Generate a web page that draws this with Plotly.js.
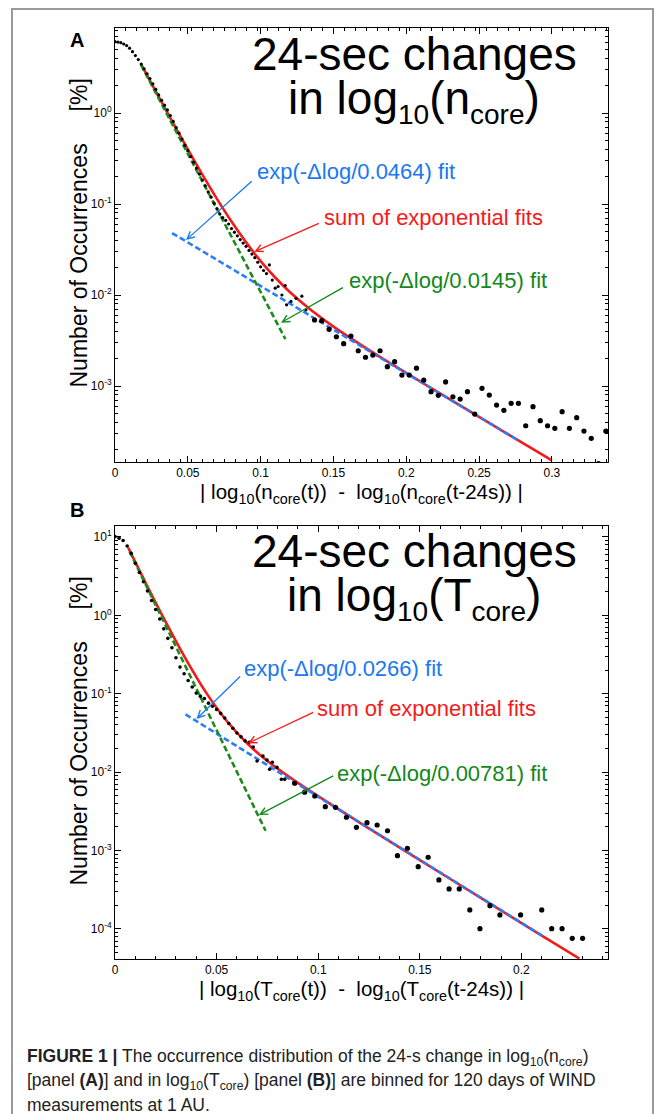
<!DOCTYPE html>
<html><head><meta charset="utf-8">
<script src="https://cdn.plot.ly/plotly-3.0.1.min.js"></script>
<style>html,body{margin:0;padding:0;background:#fff}#chart{width:663px;height:1114px}</style>
</head><body><div id="chart"></div>
<script>
const FONT = 'Liberation Sans, Arial, Helvetica, sans-serif';

// ---------- Panel A : 24-sec changes in log10(n_core) ----------
const aSmallX = [0,0.002,0.004,0.006,0.008,0.010,0.012,0.014,0.016,0.018,0.020,0.022,0.024,0.026,0.028,0.030,0.032,0.034,0.036,0.038,0.040,0.042,0.044,0.046,0.048,0.050,0.052,0.054,0.056,0.058,0.060,0.062,0.064,0.066,0.068,0.070,0.072,0.074,0.076,0.078,0.080,0.082,0.084,0.086,0.088,0.090,0.092,0.094,0.096,0.098,0.100,0.102,0.104,0.106,0.108,0.110,0.112,0.1146,0.1169,0.1178,0.1208,0.1243,0.1283,0.1311];
const aSmallY = [6.08,6.01,5.92,5.73,5.50,5.15,4.72,4.28,3.86,3.45,3.06,2.70,2.39,2.09,1.82,1.58,1.38,1.22,1.08,0.938,0.807,0.692,0.600,0.518,0.443,0.385,0.331,0.287,0.248,0.213,0.183,0.158,0.136,0.119,0.102,0.0891,0.0776,0.0708,0.0661,0.0603,0.0537,0.049,0.0447,0.0407,0.0372,0.0343,0.0309,0.0282,0.0257,0.0229,0.0204,0.0186,0.0172,0.0214,0.0146,0.0119,0.0124,0.0100,0.0127,0.0078,0.0085,0.0092,0.0097,0.00684];
const aLargeX = [0.137,0.142,0.147,0.152,0.157,0.162,0.167,0.172,0.177,0.182,0.187,0.192,0.197,0.202,0.207,0.212,0.217,0.222,0.227,0.232,0.237,0.242,0.247,0.252,0.257,0.262,0.267,0.272,0.277,0.282,0.287,0.292,0.297,0.302,0.307,0.312,0.317,0.322,0.327,0.332,0.337];
const aLargeY = [0.00531,0.00522,0.0042,0.00348,0.00292,0.00354,0.00244,0.00207,0.00219,0.00244,0.00163,0.00185,0.00132,0.00132,0.00157,0.00116,0.000866,0.00079,0.00111,0.000762,0.000719,0.000866,0.000492,0.000944,0.000796,0.000618,0.000541,0.000646,0.000646,0.000366,0.000593,0.000416,0.000366,0.000343,0.000522,0.000343,0.000449,0.00032,0.000266,0.00014,0.00032];
const aSumX = [0.0179,0.025,0.03,0.04,0.05,0.06,0.07,0.08,0.09,0.10,0.11,0.12,0.135,0.15,0.18,0.22,0.26,0.30];
const aSumY = [3.45,2.12,1.51,0.770,0.398,0.210,0.1138,0.0641,0.0379,0.0236,0.01557,0.0108,0.00676,0.0045,0.00218,0.00089,0.000367,0.000152];
const aFastX = [0.0179,0.117];
const aFastY = [3.37,0.00328];
const aSlowX = [0.0392,0.2765];
const aSlowY = [0.048,0.000255];

// ---------- Panel B : 24-sec changes in log10(T_core) ----------
const bSmallX = [0,0.002,0.004,0.006,0.008,0.010,0.012,0.014,0.016,0.018,0.020,0.022,0.024,0.026,0.028,0.030,0.032,0.034,0.036,0.038,0.040,0.042,0.044,0.046,0.048,0.050,0.052,0.054,0.056,0.058,0.060,0.062,0.064,0.066,0.068,0.0699,0.0728,0.0748,0.0761,0.0774,0.0797,0.0819,0.0835];
const bSmallY = [10.1,9.66,9.02,7.67,6.17,4.63,3.52,2.69,2.05,1.55,1.19,0.90,0.673,0.509,0.387,0.288,0.219,0.180,0.148,0.122,0.102,0.0933,0.0871,0.0759,0.0692,0.0631,0.0562,0.049,0.0417,0.0363,0.0316,0.0282,0.0251,0.024,0.0209,0.0139,0.0161,0.0143,0.0109,0.0134,0.0115,0.0081,0.0081];
const bLargeX = [0.0884,0.0933,0.0983,0.1035,0.1085,0.1139,0.1188,0.124,0.129,0.1341,0.139,0.1439,0.1492,0.1541,0.1594,0.1644,0.1694,0.1746,0.1796,0.1845,0.1894,0.1996,0.21,0.2149,0.22,0.225,0.2301];
const bLargeY = [0.00722,0.00555,0.00497,0.00363,0.00356,0.00266,0.00198,0.00227,0.00212,0.00179,0.000861,0.00107,0.000624,0.000822,0.000422,0.000324,0.000324,0.000175,0.000101,0.000198,0.000151,0.000151,0.000175,0.000101,0.000101,0.000076,0.000076];
const bSumX = [0.0065,0.015,0.025,0.035,0.045,0.055,0.065,0.075,0.09,0.12,0.15,0.18,0.21,0.2285];
const bSumY = [7.3,2.62,0.819,0.273,0.102,0.0449,0.0234,0.0139,0.0073,0.00231,0.000757,0.000249,0.000082,0.000042];
const bFastX = [0.0072,0.0741];
const bFastY = [6.5,0.00179];
const bSlowX = [0.0347,0.2105];
const bSlowY = [0.0547,0.000081];

// ---------- tick labels ----------
const aXTickVals = [0,0.05,0.1,0.15,0.2,0.25,0.3];
const aXTickText = ['0','0.05','0.1','0.15','0.2','0.25','0.3'];
const bXTickVals = [0,0.05,0.1,0.15,0.2];
const bXTickText = ['0','0.05','0.1','0.15','0.2'];
const aYTickVals = [0.001,0.01,0.1,1];
const aYTickText = ['10<sup>-3</sup>','10<sup>-2</sup>','10<sup>-1</sup>','10<sup>0</sup>'];
const bYTickVals = [0.0001,0.001,0.01,0.1,1,10];
const bYTickText = ['10<sup>-4</sup>','10<sup>-3</sup>','10<sup>-2</sup>','10<sup>-1</sup>','10<sup>0</sup>','10<sup>1</sup>'];

const RED = '#f51a1a', BLUE = '#2a7dff', GREEN = '#1e8a1e';
const BLUE_T = '#1a78f0', GREEN_T = '#12881a';

function minorLog(lo, hi){const v=[];for(let e=lo;e<=hi;e++){for(let m=2;m<=9;m++)v.push(m*Math.pow(10,e));}return v;}

function lineTrace(x,y,color,dash,xa,ya,shape){
  return {x:x,y:y,xaxis:xa,yaxis:ya,type:'scatter',mode:'lines',hoverinfo:'skip',
    line:{color:color,width:2.6,dash:dash,shape:shape||'linear',smoothing:0.8}};
}
function dotTrace(x,y,size,xa,ya){
  return {x:x,y:y,xaxis:xa,yaxis:ya,type:'scatter',mode:'markers',hoverinfo:'skip',
    marker:{color:'#000',size:size,line:{width:0}}};
}

const traces = [
  lineTrace(aSumX,aSumY,RED,'solid','x','y','spline'),
  lineTrace(aSlowX,aSlowY,BLUE,'6px,3px','x','y'),
  lineTrace(aFastX,aFastY,GREEN,'6px,3px','x','y'),
  dotTrace(aSmallX,aSmallY,3.2,'x','y'),
  dotTrace(aLargeX,aLargeY,5.2,'x','y'),
  lineTrace(bSumX,bSumY,RED,'solid','x2','y2','spline'),
  lineTrace(bSlowX,bSlowY,BLUE,'6px,3px','x2','y2'),
  lineTrace(bFastX,bFastY,GREEN,'6px,3px','x2','y2'),
  dotTrace(bSmallX,bSmallY,3.6,'x2','y2'),
  dotTrace(bLargeX,bLargeY,5.2,'x2','y2')
];

const W = 663, H = 1114;
const px = v => v/W, py = v => 1 - v/H;
const xDom = [px(115), px(608)];

function xAxis(range, tv, tt, anchor, titleText, minorStep){
  return {domain:xDom, anchor:anchor, range:range, tickmode:'array', tickvals:tv, ticktext:tt,
    ticks:'inside', ticklen:6, tickwidth:1, tickcolor:'#000', showline:true, linecolor:'#000', linewidth:1,
    mirror:'allticks', showgrid:false, zeroline:false, fixedrange:true,
    minor:{ticks:'inside', ticklen:3, tickwidth:1, tickcolor:'#000', dtick:minorStep, tick0:0, showgrid:false},
    tickfont:{family:FONT,size:12,color:'#000'},
    title:{text:titleText, font:{family:FONT,size:20.5,color:'#000'}, standoff:3}};
}
function yAxis(domain, range, tv, tt, anchor, lo, hi){
  return {domain:domain, anchor:anchor, type:'log', range:range, tickmode:'array', tickvals:tv, ticktext:tt,
    ticks:'inside', ticklen:6, tickwidth:1, tickcolor:'#000', showline:true, linecolor:'#000', linewidth:1,
    mirror:'allticks', showgrid:false, zeroline:false, fixedrange:true,
    minor:{ticks:'inside', ticklen:3, tickwidth:1, tickcolor:'#000', tickmode:'array', tickvals:minorLog(lo,hi), showgrid:false},
    tickfont:{family:FONT,size:12,color:'#000'}};
}

const L10 = Math.log10;
function arrow(xa, ya, tipX, tipY, tailX, tailY, color){
  return {xref:xa, yref:ya, axref:xa, ayref:ya, x:tipX, y:L10(tipY), ax:tailX, ay:L10(tailY),
    text:'', showarrow:true, arrowhead:5, arrowsize:1.1, arrowwidth:1.3, arrowcolor:color, standoff:0, startstandoff:0};
}
function label(x, y, text, color, size, anchor, bold, angle){
  return {xref:'paper', yref:'paper', x:px(x), y:py(y), xanchor:anchor||'left', yanchor:'middle', showarrow:false,
    textangle: angle||0,
    text: bold ? '<b>'+text+'</b>' : text, font:{family:FONT, size:size, color:color}};
}
const SUB = s => '<sub><span style="font-size:28px">'+s+'</span></sub>';
const YTITLE = 'Number of Occurrences\u00a0\u00a0\u00a0\u00a0 [%]';

const annotations = [
  // panel letters
  label(77,40,'A','#000',20,'center',true),
  label(77,510,'B','#000',20,'center',true),
  // y-axis titles
  label(78,233.5,YTITLE,'#000',23,'center',false,-90),
  label(78,731.5,YTITLE,'#000',23,'center',false,-90),
  // big in-plot titles
  label(414,54,'24-sec changes','#000',46,'center'),
  label(414,101,'in log'+SUB('10')+'(n'+SUB('core')+')','#000',46,'center'),
  label(414,551,'24-sec changes','#000',46,'center'),
  label(414,598,'in log'+SUB('10')+'(T'+SUB('core')+')','#000',46,'center'),
  // fit labels panel A
  label(255,171,'exp(-\u0394log/0.0464) fit',BLUE_T,22),
  label(322,218,'sum of exponential fits',RED,22),
  label(347,281,'exp(-\u0394log/0.0145) fit',GREEN_T,22),
  // fit labels panel B
  label(242,668,'exp(-\u0394log/0.0266) fit',BLUE_T,22),
  label(315,708,'sum of exponential fits',RED,22),
  label(335,773,'exp(-\u0394log/0.00781) fit',GREEN_T,22),
  // arrows panel A
  arrow('x','y',0.0488,0.0402,0.0949,0.1836,BLUE_T),
  arrow('x','y',0.0956,0.0299,0.141,0.0623,RED),
  arrow('x','y',0.114,0.00496,0.1575,0.01233,GREEN_T),
  // arrows panel B
  arrow('x2','y2',0.0401,0.0478,0.0623,0.1738,BLUE_T),
  arrow('x2','y2',0.0654,0.0234,0.0983,0.0591,RED),
  arrow('x2','y2',0.0708,0.00284,0.1081,0.0092,GREEN_T),
  // caption
  label(25,1057,'<b>FIGURE 1 |</b> The occurrence distribution of the 24-s change in log<sub>10</sub>(n<sub>core</sub>)','#222',17.5),
  label(25,1081,'[panel <b>(A)</b>] and in log<sub>10</sub>(T<sub>core</sub>) [panel <b>(B)</b>] are binned for 120 days of WIND','#222',17.5),
  label(25,1105,'measurements at 1 AU.','#222',17.5)
];

const layout = {
  width:W, height:H, margin:{l:0,r:0,t:0,b:0}, paper_bgcolor:'#fff', plot_bgcolor:'#fff',
  showlegend:false, font:{family:FONT,color:'#000'},
  xaxis: xAxis([0,0.3385], aXTickVals, aXTickText, 'y',
    '| log<sub>10</sub>(n<sub>core</sub>(t))\u00a0 - \u00a0log<sub>10</sub>(n<sub>core</sub>(t-24s)) |', 0.0075),
  yaxis: yAxis([py(462), py(28)], [-3.835, 0.934], aYTickVals, aYTickText, 'x', -4, 0),
  xaxis2: xAxis([0,0.2426], bXTickVals, bXTickText, 'y2',
    '| log<sub>10</sub>(T<sub>core</sub>(t))\u00a0 - \u00a0log<sub>10</sub>(T<sub>core</sub>(t-24s)) |', 0.01),
  yaxis2: yAxis([py(959), py(526)], [-4.383, 1.14], bYTickVals, bYTickText, 'x2', -5, 1),
  annotations: annotations,
  shapes: [{type:'rect', xref:'paper', yref:'paper', x0:px(12), x1:px(653), y0:-0.05, y1:py(9),
    line:{color:'#9a9a9a', width:2}, fillcolor:'rgba(0,0,0,0)', layer:'below'}]
};

Plotly.newPlot('chart', traces, layout, {staticPlot:true, displayModeBar:false});
</script>
</body></html>
